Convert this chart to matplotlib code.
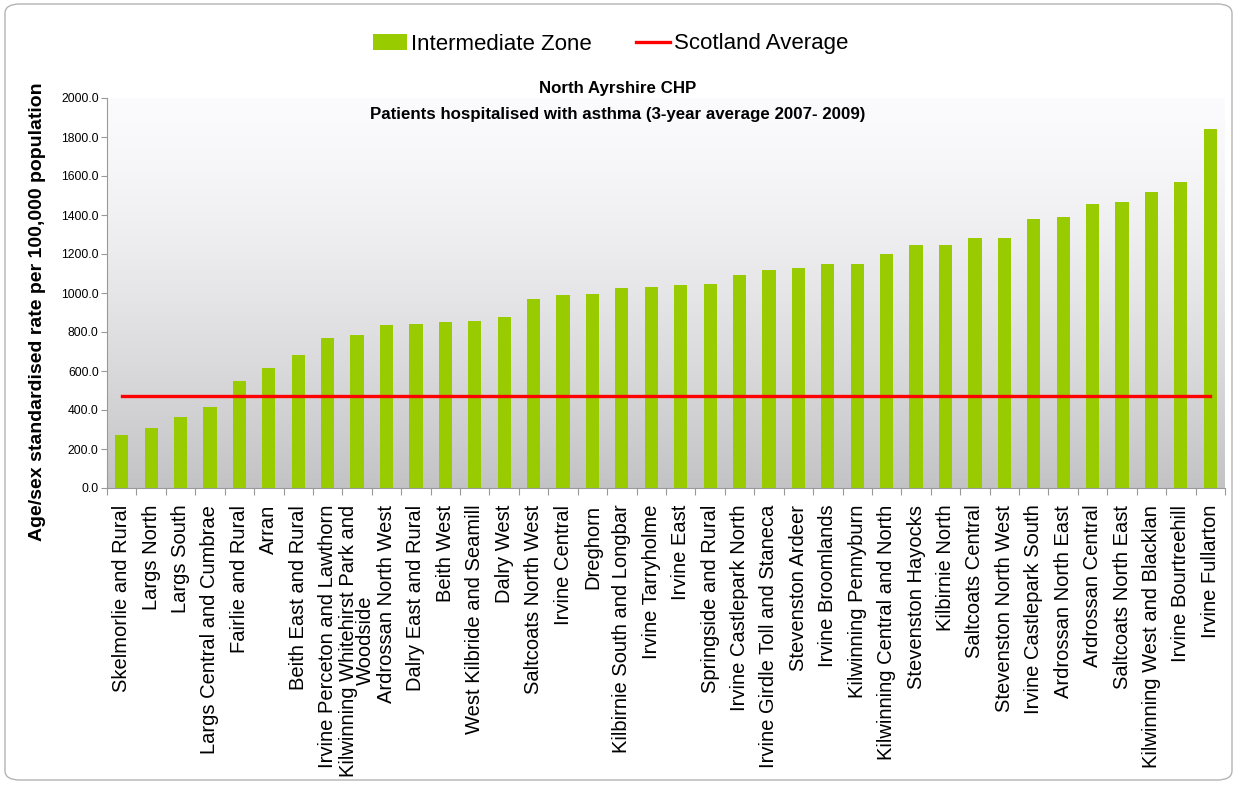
import numpy as np
import matplotlib
matplotlib.use('Agg')
import matplotlib.pyplot as plt
from matplotlib.patches import FancyBboxPatch, Patch
from matplotlib.lines import Line2D

# Data
zones = [
    'Skelmorlie and Rural', 'Largs North', 'Largs South',
    'Largs Central and Cumbrae', 'Fairlie and Rural', 'Arran',
    'Beith East and Rural', 'Irvine Perceton and Lawthorn',
    'Kilwinning Whitehirst Park and\nWoodside', 'Ardrossan North West',
    'Dalry East and Rural', 'Beith West', 'West Kilbride and Seamill',
    'Dalry West', 'Saltcoats North West', 'Irvine Central', 'Dreghorn',
    'Kilbirnie South and Longbar', 'Irvine Tarryholme', 'Irvine East',
    'Springside and Rural', 'Irvine Castlepark North',
    'Irvine Girdle Toll and Staneca', 'Stevenston Ardeer',
    'Irvine Broomlands', 'Kilwinning Pennyburn',
    'Kilwinning Central and North', 'Stevenston Hayocks', 'Kilbirnie North',
    'Saltcoats Central', 'Stevenston North West', 'Irvine Castlepark South',
    'Ardrossan North East', 'Ardrossan Central', 'Saltcoats North East',
    'Kilwinning West and Blacklan', 'Irvine Bourtreehill', 'Irvine Fullarton',
]
rates = [
    272, 307, 365, 416, 549, 616, 684, 771, 785, 838,
    839, 853, 856, 878, 971, 990, 997, 1028, 1033, 1041,
    1044, 1092, 1118, 1130, 1149, 1150, 1198, 1244, 1248, 1280,
    1284, 1381, 1391, 1456, 1467, 1520, 1571, 1841,
]
scotland_avg = 470
yticks = [0, 200, 400, 600, 800, 1000, 1200, 1400, 1600, 1800, 2000]

arial = ['Liberation Sans', 'DejaVu Sans']

fig = plt.figure(figsize=(12.35, 7.85), dpi=100)
fig.patch.set_facecolor('white')

# Rounded outer border
border = FancyBboxPatch((5 / 1235, 5 / 785), 1227 / 1235, 776 / 785,
                        boxstyle='round,pad=0,rounding_size=0.012',
                        transform=fig.transFigure, fill=False,
                        edgecolor='#b4b4b4', linewidth=1.0)
fig.patches.append(border)

ax = fig.add_axes([107 / 1235, 1 - 488 / 785, 1118 / 1235, 390 / 785])

x = np.arange(len(zones))

# Background gradient inside the plot area (light at top, grey at bottom)
t = np.linspace(0, 1, 256).reshape(-1, 1)
grad = 0.985 - 0.22 * t ** 1.4
ax.imshow(np.dstack([grad, grad, (grad * 1.01).clip(0, 1)]), aspect='auto',
          extent=[-0.5, len(zones) - 0.5, 0, 2000], origin='upper', zorder=0)

ax.bar(x, rates, width=0.45, color='#99cc00', zorder=2)
ax.plot([x[0], x[-1]], [scotland_avg, scotland_avg], color='#ff0000',
        linewidth=2.4, zorder=3)

ax.set_xlim(-0.5, len(zones) - 0.5)
ax.set_ylim(0, 2000)

# Ticks
ax.set_yticks(yticks)
ax.set_yticklabels([f'{v:.1f}' for v in yticks], family=arial, fontsize=8.7)
ax.set_xticks(np.arange(len(zones) + 1) - 0.5)
ax.set_xticklabels([])
ax.set_xticks(x, minor=True)
ax.set_xticklabels(zones, minor=True, rotation=90, family=arial,
                   fontsize=14.5, va='top', ha='center', linespacing=0.9)
ax.tick_params(axis='x', which='major', length=5, color='#999999')
ax.tick_params(axis='x', which='minor', length=0, pad=12)
ax.tick_params(axis='y', length=4, color='#999999', pad=2)

for side in ['top', 'right']:
    ax.spines[side].set_visible(False)
ax.spines['left'].set_color('#999999')
ax.spines['bottom'].set_color('#999999')

fig.text(38 / 1235, 1 - 312 / 785,
         'Age/sex standardised rate per 100,000 population',
         rotation=90, ha='center', va='center', family=arial,
         fontsize=14, fontweight='bold')

# Titles
fig.text(0.5, 1 - 88 / 785, 'North Ayrshire CHP', ha='center', va='center',
         family=arial, fontsize=12.2, fontweight='bold')
fig.text(0.5, 1 - 114 / 785,
         'Patients hospitalised with asthma (3-year average 2007- 2009)',
         ha='center', va='center', family=arial, fontsize=12.2,
         fontweight='bold')

# Legend
handles = [Patch(facecolor='#99cc00', edgecolor='none'),
           Line2D([0], [0], color='#ff0000', linewidth=2.4)]
fig.legend(handles, ['Intermediate Zone', 'Scotland Average'],
           loc='center', bbox_to_anchor=(611 / 1235, 1 - 44 / 785),
           ncol=2, frameon=False, prop={'family': arial, 'size': 16},
           handlelength=1.5, handletextpad=0.2, columnspacing=2.0)

fig.savefig('out.png', dpi=100)
